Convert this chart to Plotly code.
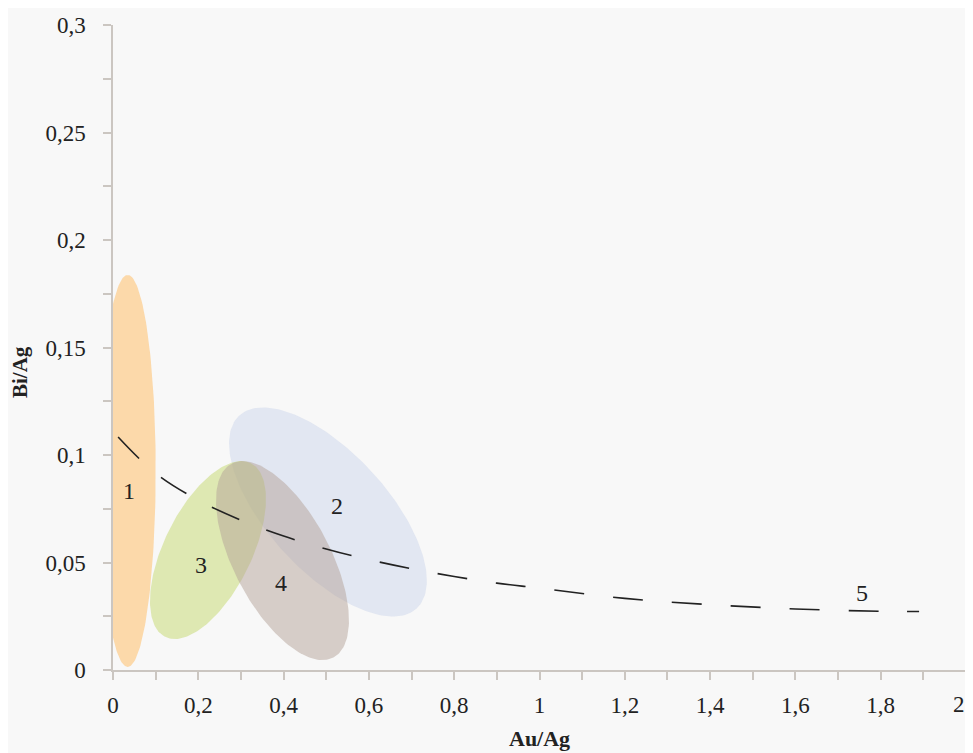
import numpy as np
import plotly.graph_objects as go

# dashed trend line (5)
CURVE_X = [0.012, 0.1, 0.2, 0.3, 0.4, 0.5, 0.6, 0.7, 0.8, 0.9, 1.0, 1.2, 1.4, 1.6, 1.8, 1.89]
CURVE_Y = [0.1084, 0.0915, 0.079, 0.0697, 0.0623, 0.0563, 0.0513, 0.0471, 0.0435,
           0.0404, 0.0381, 0.0333, 0.0304, 0.0284, 0.0273, 0.0272]

# fields 1-4: centre in data units, semi-axes in px, tilt in degrees (screen, clockwise)
ELL_NAMES = ["1", "2", "3", "4"]
ELL_CX = [0.0345, 0.504, 0.2227, 0.3974]
ELL_CY = [0.0926, 0.0735, 0.0558, 0.0509]
ELL_A = [196, 131, 96.8, 109.5]
ELL_B = [28, 59.5, 43.7, 48.3]
ELL_ANGLE = [90, 47.4, -63.8, 62.3]
ELL_COLORS = ["rgba(255,186,92,0.5)", "rgba(204,214,236,0.5)",
              "rgba(196,216,108,0.5)", "rgba(180,162,152,0.5)"]

# label positions
LABELS = ["1", "2", "3", "4", "5"]
LABEL_X = [0.0375, 0.525, 0.206, 0.394, 1.756]
LABEL_Y = [0.0833, 0.0763, 0.0488, 0.0405, 0.0358]

# x tick labels (the last one is drawn separately so it is not cut at the edge)
X_TICKS = [0, 0.2, 0.4, 0.6, 0.8, 1, 1.2, 1.4, 1.6, 1.8]
X_TICKTEXT = ["0", "0,2", "0,4", "0,6", "0,8", "1", "1,2", "1,4", "1,6", "1,8"]
X_LAST_TICK = 2
X_LAST_TEXT = "2"

# page body has an 8px margin, so the figure is a bit smaller than the window
W, H = 965, 745
M = dict(l=105, r=7, t=17, b=83)
X_RANGE = [0, 2]
Y_RANGE = [0, 0.3]
SX = (W - M["l"] - M["r"]) / (X_RANGE[1] - X_RANGE[0])
SY = (H - M["t"] - M["b"]) / (Y_RANGE[1] - Y_RANGE[0])

FONT = "Liberation Serif"
AXIS_COLOR = "#cbc6c1"
BG = "#f8f8f8"

fig = go.Figure()

t = np.linspace(0, 2 * np.pi, 200)
for name, cx, cy, a, b, ang, col in zip(ELL_NAMES, ELL_CX, ELL_CY, ELL_A, ELL_B,
                                        ELL_ANGLE, ELL_COLORS):
    th = np.radians(ang)
    dx = a * np.cos(th) * np.cos(t) - b * np.sin(th) * np.sin(t)
    dy = a * np.sin(th) * np.cos(t) + b * np.cos(th) * np.sin(t)
    fig.add_trace(go.Scatter(
        x=cx + dx / SX, y=cy - dy / SY, mode="lines", fill="toself",
        fillcolor=col, line=dict(width=0), name=name, hoverinfo="skip",
    ))

fig.add_trace(go.Scatter(
    x=CURVE_X, y=CURVE_Y, mode="lines", line_shape="spline", name="5",
    line=dict(color="#222222", width=1.6, dash="30px,29px"),
))

for txt, lx, ly in zip(LABELS, LABEL_X, LABEL_Y):
    fig.add_annotation(x=lx, y=ly, text=txt, showarrow=False,
                       font=dict(family=FONT, size=24, color="#222222"))

# last x tick label, kept inside the visible page
fig.add_annotation(x=X_LAST_TICK, xref="x", yref="paper", y=0, yshift=-34,
                   xanchor="right", yanchor="middle", xshift=1,
                   text=X_LAST_TEXT, showarrow=False,
                   font=dict(family=FONT, size=23, color="#222222"))

fig.add_annotation(xref="paper", yref="paper", x=0.5, y=0, yshift=-68,
                   xanchor="center", yanchor="middle",
                   text="<b>Au/Ag</b>", showarrow=False,
                   font=dict(family=FONT, size=22, color="#222222"))
fig.add_annotation(xref="paper", yref="paper", x=0, xshift=-93, y=0.462,
                   xanchor="center", yanchor="middle",
                   text="<b>Bi/Ag</b>", textangle=-90, showarrow=False,
                   font=dict(family=FONT, size=21, color="#222222"))

axis_style = dict(
    showgrid=False, zeroline=False, showline=True, linecolor=AXIS_COLOR,
    linewidth=1.5, ticks="outside", ticklen=8, tickwidth=1.5, tickcolor=AXIS_COLOR,
    tickfont=dict(family=FONT, size=23, color="#222222"), automargin=False,
)

fig.update_xaxes(range=X_RANGE, tickvals=X_TICKS, ticktext=X_TICKTEXT,
                 ticklabelstandoff=6,
                 minor=dict(dtick=0.1, ticks="outside", ticklen=8, tickwidth=1.5,
                            tickcolor=AXIS_COLOR),
                 **axis_style)
fig.update_yaxes(range=Y_RANGE, dtick=0.05, ticklabelstandoff=13,
                 minor=dict(dtick=0.025, ticks="outside", ticklen=8, tickwidth=1.5,
                            tickcolor=AXIS_COLOR),
                 **axis_style)

fig.update_layout(
    width=W, height=H, margin=M, separators=", ",
    paper_bgcolor=BG, plot_bgcolor=BG, showlegend=False,
    font=dict(family=FONT, color="#222222"),
)

fig.write_html("out.html")
